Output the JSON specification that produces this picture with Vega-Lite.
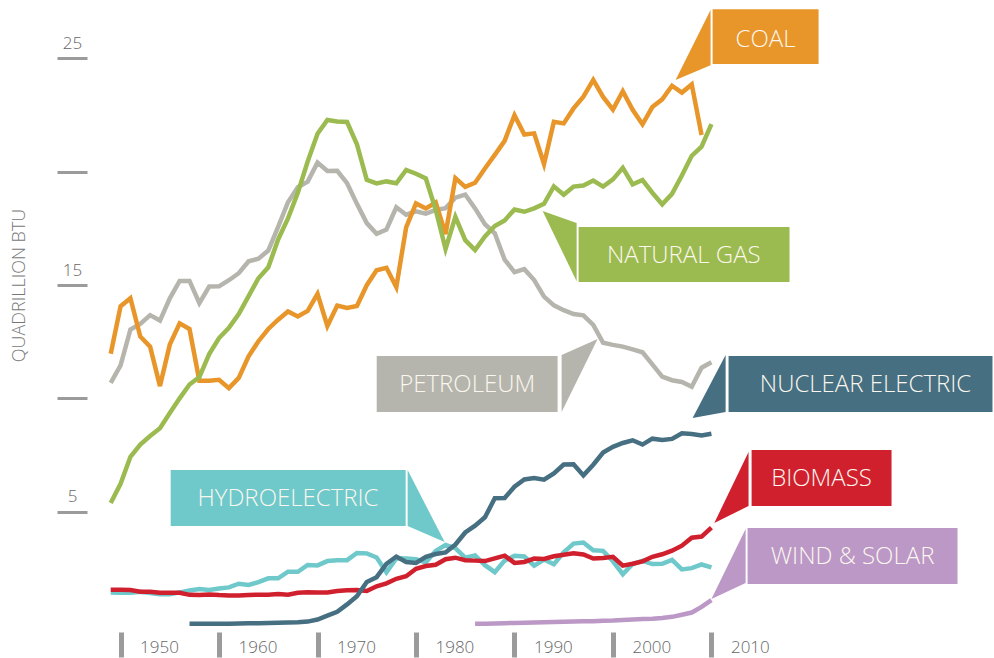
{
  "$schema": "https://vega.github.io/schema/vega-lite/v6.json",
  "width": 646,
  "height": 612,
  "autosize": "none",
  "padding": {"left": 93, "top": 13, "right": 255, "bottom": 33},
  "background": "white",
  "config": {"view": {"stroke": null}, "font": "Open Sans"},
  "datasets": {
    "energy": [
      {"year": 1949, "coal": 11.97, "gas": 5.38, "oil": 10.68, "nuc": null, "hydro": 1.43, "bio": 1.55, "wind": null},
      {"year": 1950, "coal": 14.06, "gas": 6.23, "oil": 11.45, "nuc": null, "hydro": 1.42, "bio": 1.56, "wind": null},
      {"year": 1951, "coal": 14.42, "gas": 7.42, "oil": 13.04, "nuc": null, "hydro": 1.42, "bio": 1.54, "wind": null},
      {"year": 1952, "coal": 12.73, "gas": 7.96, "oil": 13.28, "nuc": null, "hydro": 1.47, "bio": 1.47, "wind": null},
      {"year": 1953, "coal": 12.28, "gas": 8.34, "oil": 13.67, "nuc": null, "hydro": 1.41, "bio": 1.47, "wind": null},
      {"year": 1954, "coal": 10.54, "gas": 8.68, "oil": 13.43, "nuc": null, "hydro": 1.36, "bio": 1.42, "wind": null},
      {"year": 1955, "coal": 12.37, "gas": 9.35, "oil": 14.41, "nuc": null, "hydro": 1.36, "bio": 1.42, "wind": null},
      {"year": 1956, "coal": 13.31, "gas": 10.0, "oil": 15.18, "nuc": null, "hydro": 1.44, "bio": 1.42, "wind": null},
      {"year": 1957, "coal": 13.06, "gas": 10.61, "oil": 15.18, "nuc": 0.05, "hydro": 1.52, "bio": 1.33, "wind": null},
      {"year": 1958, "coal": 10.78, "gas": 10.94, "oil": 14.2, "nuc": 0.05, "hydro": 1.59, "bio": 1.32, "wind": null},
      {"year": 1959, "coal": 10.78, "gas": 11.95, "oil": 14.93, "nuc": 0.05, "hydro": 1.55, "bio": 1.35, "wind": null},
      {"year": 1960, "coal": 10.82, "gas": 12.66, "oil": 14.94, "nuc": 0.06, "hydro": 1.61, "bio": 1.32, "wind": null},
      {"year": 1961, "coal": 10.45, "gas": 13.11, "oil": 15.21, "nuc": 0.06, "hydro": 1.66, "bio": 1.3, "wind": null},
      {"year": 1962, "coal": 10.9, "gas": 13.72, "oil": 15.52, "nuc": 0.07, "hydro": 1.82, "bio": 1.3, "wind": null},
      {"year": 1963, "coal": 11.85, "gas": 14.51, "oil": 16.05, "nuc": 0.08, "hydro": 1.77, "bio": 1.32, "wind": null},
      {"year": 1964, "coal": 12.52, "gas": 15.3, "oil": 16.16, "nuc": 0.08, "hydro": 1.89, "bio": 1.34, "wind": null},
      {"year": 1965, "coal": 13.06, "gas": 15.78, "oil": 16.52, "nuc": 0.09, "hydro": 2.06, "bio": 1.34, "wind": null},
      {"year": 1966, "coal": 13.47, "gas": 17.01, "oil": 17.56, "nuc": 0.1, "hydro": 2.06, "bio": 1.37, "wind": null},
      {"year": 1967, "coal": 13.83, "gas": 17.94, "oil": 18.65, "nuc": 0.11, "hydro": 2.35, "bio": 1.34, "wind": null},
      {"year": 1968, "coal": 13.61, "gas": 19.07, "oil": 19.31, "nuc": 0.12, "hydro": 2.35, "bio": 1.42, "wind": null},
      {"year": 1969, "coal": 13.86, "gas": 20.45, "oil": 19.56, "nuc": 0.15, "hydro": 2.65, "bio": 1.44, "wind": null},
      {"year": 1970, "coal": 14.61, "gas": 21.67, "oil": 20.4, "nuc": 0.24, "hydro": 2.63, "bio": 1.43, "wind": null},
      {"year": 1971, "coal": 13.19, "gas": 22.28, "oil": 20.03, "nuc": 0.41, "hydro": 2.82, "bio": 1.43, "wind": null},
      {"year": 1972, "coal": 14.09, "gas": 22.21, "oil": 20.04, "nuc": 0.58, "hydro": 2.86, "bio": 1.5, "wind": null},
      {"year": 1973, "coal": 13.99, "gas": 22.19, "oil": 19.49, "nuc": 0.91, "hydro": 2.86, "bio": 1.53, "wind": null},
      {"year": 1974, "coal": 14.07, "gas": 21.21, "oil": 18.58, "nuc": 1.27, "hydro": 3.18, "bio": 1.54, "wind": null},
      {"year": 1975, "coal": 14.99, "gas": 19.64, "oil": 17.73, "nuc": 1.9, "hydro": 3.16, "bio": 1.5, "wind": null},
      {"year": 1976, "coal": 15.65, "gas": 19.48, "oil": 17.26, "nuc": 2.11, "hydro": 2.98, "bio": 1.71, "wind": null},
      {"year": 1977, "coal": 15.76, "gas": 19.57, "oil": 17.45, "nuc": 2.7, "hydro": 2.33, "bio": 1.84, "wind": null},
      {"year": 1978, "coal": 14.91, "gas": 19.49, "oil": 18.43, "nuc": 3.02, "hydro": 2.94, "bio": 2.04, "wind": null},
      {"year": 1979, "coal": 17.54, "gas": 20.08, "oil": 18.1, "nuc": 2.78, "hydro": 2.93, "bio": 2.15, "wind": null},
      {"year": 1980, "coal": 18.6, "gas": 19.91, "oil": 18.25, "nuc": 2.74, "hydro": 2.9, "bio": 2.48, "wind": null},
      {"year": 1981, "coal": 18.38, "gas": 19.7, "oil": 18.15, "nuc": 3.01, "hydro": 2.76, "bio": 2.6, "wind": null},
      {"year": 1982, "coal": 18.64, "gas": 18.32, "oil": 18.31, "nuc": 3.13, "hydro": 3.27, "bio": 2.66, "wind": null},
      {"year": 1983, "coal": 17.25, "gas": 16.59, "oil": 18.39, "nuc": 3.2, "hydro": 3.53, "bio": 2.9, "wind": null},
      {"year": 1984, "coal": 19.72, "gas": 18.01, "oil": 18.85, "nuc": 3.55, "hydro": 3.39, "bio": 2.97, "wind": null},
      {"year": 1985, "coal": 19.33, "gas": 16.98, "oil": 18.99, "nuc": 4.08, "hydro": 2.97, "bio": 2.86, "wind": null},
      {"year": 1986, "coal": 19.51, "gas": 16.54, "oil": 18.38, "nuc": 4.38, "hydro": 3.07, "bio": 2.84, "wind": 0.05},
      {"year": 1987, "coal": 20.14, "gas": 17.14, "oil": 17.68, "nuc": 4.75, "hydro": 2.64, "bio": 2.82, "wind": 0.06},
      {"year": 1988, "coal": 20.74, "gas": 17.6, "oil": 17.28, "nuc": 5.59, "hydro": 2.33, "bio": 2.94, "wind": 0.07},
      {"year": 1989, "coal": 21.36, "gas": 17.85, "oil": 16.12, "nuc": 5.6, "hydro": 2.84, "bio": 3.06, "wind": 0.08},
      {"year": 1990, "coal": 22.49, "gas": 18.33, "oil": 15.57, "nuc": 6.1, "hydro": 3.05, "bio": 2.74, "wind": 0.09},
      {"year": 1991, "coal": 21.64, "gas": 18.23, "oil": 15.7, "nuc": 6.42, "hydro": 3.02, "bio": 2.78, "wind": 0.1},
      {"year": 1992, "coal": 21.69, "gas": 18.38, "oil": 15.22, "nuc": 6.48, "hydro": 2.62, "bio": 2.93, "wind": 0.11},
      {"year": 1993, "coal": 20.34, "gas": 18.58, "oil": 14.49, "nuc": 6.41, "hydro": 2.89, "bio": 2.91, "wind": 0.12},
      {"year": 1994, "coal": 22.2, "gas": 19.35, "oil": 14.1, "nuc": 6.69, "hydro": 2.68, "bio": 3.03, "wind": 0.13},
      {"year": 1995, "coal": 22.13, "gas": 18.98, "oil": 13.89, "nuc": 7.08, "hydro": 3.21, "bio": 3.1, "wind": 0.14},
      {"year": 1996, "coal": 22.79, "gas": 19.34, "oil": 13.72, "nuc": 7.09, "hydro": 3.59, "bio": 3.16, "wind": 0.15},
      {"year": 1997, "coal": 23.31, "gas": 19.39, "oil": 13.66, "nuc": 6.6, "hydro": 3.64, "bio": 3.11, "wind": 0.16},
      {"year": 1998, "coal": 24.05, "gas": 19.61, "oil": 13.24, "nuc": 7.07, "hydro": 3.3, "bio": 2.93, "wind": 0.17},
      {"year": 1999, "coal": 23.3, "gas": 19.34, "oil": 12.45, "nuc": 7.61, "hydro": 3.27, "bio": 2.96, "wind": 0.19},
      {"year": 2000, "coal": 22.74, "gas": 19.66, "oil": 12.36, "nuc": 7.86, "hydro": 2.81, "bio": 3.01, "wind": 0.2},
      {"year": 2001, "coal": 23.55, "gas": 20.17, "oil": 12.28, "nuc": 8.03, "hydro": 2.24, "bio": 2.62, "wind": 0.22},
      {"year": 2002, "coal": 22.73, "gas": 19.44, "oil": 12.16, "nuc": 8.15, "hydro": 2.69, "bio": 2.7, "wind": 0.24},
      {"year": 2003, "coal": 22.09, "gas": 19.63, "oil": 12.03, "nuc": 7.96, "hydro": 2.83, "bio": 2.81, "wind": 0.26},
      {"year": 2004, "coal": 22.85, "gas": 19.07, "oil": 11.5, "nuc": 8.22, "hydro": 2.69, "bio": 3.01, "wind": 0.28},
      {"year": 2005, "coal": 23.19, "gas": 18.56, "oil": 10.96, "nuc": 8.16, "hydro": 2.7, "bio": 3.12, "wind": 0.31},
      {"year": 2006, "coal": 23.79, "gas": 19.02, "oil": 10.8, "nuc": 8.21, "hydro": 2.87, "bio": 3.28, "wind": 0.36},
      {"year": 2007, "coal": 23.49, "gas": 19.83, "oil": 10.72, "nuc": 8.46, "hydro": 2.45, "bio": 3.5, "wind": 0.45},
      {"year": 2008, "coal": 23.85, "gas": 20.7, "oil": 10.51, "nuc": 8.43, "hydro": 2.51, "bio": 3.85, "wind": 0.55},
      {"year": 2009, "coal": 21.62, "gas": 21.1, "oil": 11.35, "nuc": 8.36, "hydro": 2.67, "bio": 3.9, "wind": 0.8},
      {"year": 2010, "coal": null, "gas": 22.1, "oil": 11.59, "nuc": 8.44, "hydro": 2.54, "bio": 4.3, "wind": 1.1}
    ],
    "pointers": [
      {"key": "coal", "year": 2006.36, "lo": 24.04, "hi": 24.04},
      {"key": "coal", "year": 2009.91, "lo": 24.7, "hi": 27.13},
      {"key": "gas", "year": 1992.86, "lo": 18.26, "hi": 18.26},
      {"key": "gas", "year": 1996.31, "lo": 15.17, "hi": 17.73},
      {"key": "oil", "year": 1994.79, "lo": 9.4, "hi": 11.91},
      {"key": "oil", "year": 1998.44, "lo": 12.62, "hi": 12.62},
      {"key": "nuc", "year": 2008.09, "lo": 9.13, "hi": 9.13},
      {"key": "nuc", "year": 2011.44, "lo": 9.4, "hi": 11.91},
      {"key": "bio", "year": 2010.29, "lo": 4.5, "hi": 4.5},
      {"key": "bio", "year": 2013.77, "lo": 5.25, "hi": 7.63},
      {"key": "wind", "year": 2010.0, "lo": 1.15, "hi": 1.15},
      {"key": "wind", "year": 2013.47, "lo": 1.85, "hi": 4.23},
      {"key": "hydro", "year": 1979.15, "lo": 4.37, "hi": 6.84},
      {"key": "hydro", "year": 1982.91, "lo": 3.66, "hi": 3.66}
    ],
    "boxes": [
      {"key": "coal", "label": "COAL", "x1": 2010.12, "x2": 2020.88, "y1": 24.75, "y2": 27.17, "tx": 2015.5, "ty": 25.8},
      {"key": "gas", "label": "NATURAL GAS", "x1": 1996.51, "x2": 2017.93, "y1": 15.13, "y2": 17.56, "tx": 2007.2, "ty": 16.3},
      {"key": "oil", "label": "PETROLEUM", "x1": 1976.01, "x2": 1994.38, "y1": 9.4, "y2": 11.87, "tx": 1985.2, "ty": 10.58},
      {"key": "nuc", "label": "NUCLEAR ELECTRIC", "x1": 2011.74, "x2": 2038.54, "y1": 9.4, "y2": 11.87, "tx": 2025.65, "ty": 10.58},
      {"key": "bio", "label": "BIOMASS", "x1": 2014.08, "x2": 2028.29, "y1": 5.25, "y2": 7.72, "tx": 2021.18, "ty": 6.43},
      {"key": "wind", "label": "WIND & SOLAR", "x1": 2013.67, "x2": 2034.99, "y1": 1.81, "y2": 4.28, "tx": 2024.33, "ty": 2.99},
      {"key": "hydro", "label": "HYDROELECTRIC", "x1": 1955.09, "x2": 1978.95, "y1": 4.37, "y2": 6.84, "tx": 1967.0, "ty": 5.55}
    ]
  },
  "layer": [
    {
      "mark": {"type": "rule", "color": "#9b9b9b", "strokeWidth": 2},
      "encoding": {
        "y": {"datum": 0, "type": "quantitative", "scale": {"domain": [0, 27], "nice": false, "zero": false}}
      }
    },
    {
      "data": {"name": "pointers"},
      "mark": {"type": "area", "opacity": 1},
      "encoding": {
        "x": {"field": "year", "type": "quantitative", "scale": {"domain": [1947.2, 2012.8], "nice": false, "zero": false}},
        "y": {"field": "lo", "type": "quantitative", "scale": {"domain": [0, 27], "nice": false, "zero": false}},
        "y2": {"field": "hi"},
        "detail": {"field": "key"},
        "color": {"field": "key", "type": "nominal", "legend": null,
          "scale": {"domain": ["oil", "coal", "gas", "hydro", "bio", "nuc", "wind"],
                    "range": ["#b6b5ad", "#e8962a", "#9bbb50", "#6fc8ca", "#d0202e", "#466f82", "#bb98c6"]}}
      }
    },
    {
      "data": {"name": "boxes"},
      "mark": {"type": "rect", "opacity": 1},
      "encoding": {
        "x": {"field": "x1", "type": "quantitative", "scale": {"domain": [1947.2, 2012.8], "nice": false, "zero": false}},
        "x2": {"field": "x2"},
        "y": {"field": "y1", "type": "quantitative", "scale": {"domain": [0, 27], "nice": false, "zero": false}},
        "y2": {"field": "y2"},
        "color": {"field": "key", "type": "nominal", "legend": null}
      }
    },
    {
      "data": {"name": "boxes"},
      "mark": {"type": "text", "align": "center", "baseline": "middle", "fontSize": 24, "fontWeight": 300, "font": "Open Sans", "fill": "#fbf7ee"},
      "encoding": {
        "x": {"field": "tx", "type": "quantitative", "scale": {"domain": [1947.2, 2012.8], "nice": false, "zero": false}},
        "y": {"field": "ty", "type": "quantitative", "scale": {"domain": [0, 27], "nice": false, "zero": false}},
        "text": {"field": "label"}
      }
    },
    {
      "data": {"name": "energy"},
      "transform": [
        {"fold": ["oil", "coal", "gas", "hydro", "bio", "nuc", "wind"], "as": ["key", "value"]},
        {"filter": "isValid(datum.value)"}
      ],
      "mark": {"type": "line", "strokeWidth": 4.5, "strokeJoin": "miter"},
      "encoding": {
        "x": {"field": "year", "type": "quantitative",
          "scale": {"domain": [1947.2, 2012.8], "nice": false, "zero": false},
          "axis": {"values": [1950, 1960, 1970, 1980, 1990, 2000, 2010], "format": "d", "domain": false, "grid": false,
                   "offset": 7, "tickSize": 25, "tickWidth": 5, "tickColor": "#9b9b9b",
                   "labelAlign": "left", "labelOffset": 19, "labelBaseline": "middle", "labelPadding": -10,
                   "labelFontSize": 17, "labelFont": "Open Sans", "labelFontWeight": 300, "labelColor": "#666666",
                   "labelOverlap": false, "labelBound": false, "labelFlush": false, "title": null}},
        "y": {"field": "value", "type": "quantitative",
          "scale": {"domain": [0, 27], "nice": false, "zero": false},
          "axis": {"values": [5, 10, 15, 20, 25], "labelExpr": "datum.value % 10 == 5 ? datum.label : ''",
                   "domain": false, "grid": false, "offset": 6, "tickSize": 30, "tickWidth": 3, "tickColor": "#9b9b9b",
                   "labelAlign": "center", "labelBaseline": "alphabetic", "labelPadding": -15, "labelOffset": -10,
                   "labelFontSize": 17, "labelFont": "Open Sans", "labelFontWeight": 300, "labelColor": "#666666",
                   "labelOverlap": false, "labelBound": false, "labelFlush": false,
                   "title": "QUADRILLION BTU", "titleFont": "Open Sans", "titleFontSize": 18, "titleFontWeight": 300,
                   "titleColor": "#777777", "titleAngle": -90, "titleAlign": "center", "titleBaseline": "middle",
                   "titleX": -68, "titleY": 272}},
        "color": {"field": "key", "type": "nominal", "legend": null}
      }
    }
  ]
}
